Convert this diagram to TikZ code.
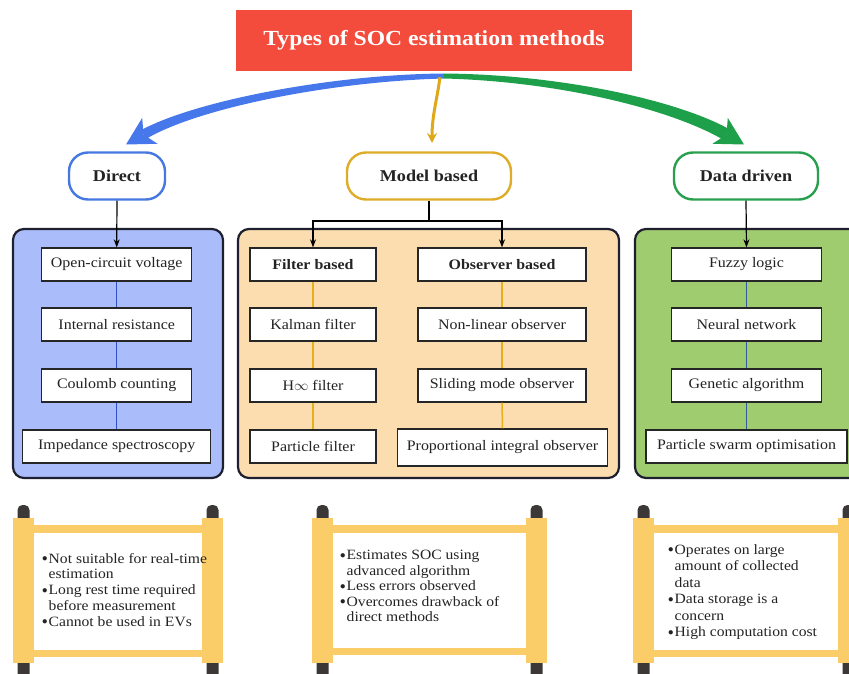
\documentclass[tikz,border=0pt]{standalone}
\usepackage{fontspec}
\setmainfont[FakeStretch=1.1]{Liberation Serif}
\usetikzlibrary{arrows.meta,calc}
\definecolor{titlered}{RGB}{243,75,60}
\definecolor{arrblue}{RGB}{70,120,235}
\definecolor{arrgreen}{RGB}{30,160,75}
\definecolor{arrgold}{RGB}{222,168,25}
\definecolor{pillblue}{RGB}{70,120,225}
\definecolor{pillgold}{RGB}{222,172,40}
\definecolor{pillgreen}{RGB}{40,160,80}
\definecolor{panelblue}{RGB}{170,189,250}
\definecolor{panelorange}{RGB}{252,221,176}
\definecolor{panelgreen}{RGB}{160,204,112}
\definecolor{panelborder}{RGB}{30,32,48}
\definecolor{textgray}{RGB}{35,35,35}
\definecolor{linkblue}{RGB}{50,80,200}
\definecolor{linkgold}{RGB}{228,176,30}
\definecolor{linknavy}{RGB}{50,90,150}
\definecolor{scrollyellow}{RGB}{250,205,105}
\definecolor{capdark}{RGB}{60,56,56}
\newcommand{\bul}{\makebox[6.5pt][l]{\raisebox{1.5pt}{\fontsize{11}{11}\selectfont$\bullet$}}}
\newcommand{\ind}{\hspace*{6.5pt}}
\newcommand{\drawscroll}[4]{%
  \fill[capdark,rounded corners=5pt] (#1+4.5,505) rectangle (#1+16.5,526);
  \fill[capdark,rounded corners=5pt] (#2+4.5,655) rectangle (#2+16.5,690);
  \fill[capdark,rounded corners=5pt] (#2+4.5,505) rectangle (#2+16.5,526);
  \fill[capdark,rounded corners=5pt] (#1+4.5,655) rectangle (#1+16.5,690);
  \fill[scrollyellow] (#1+20,#3) rectangle (#2,#3+8);
  \fill[scrollyellow] (#1+20,#4) rectangle (#2,#4+7);
  \fill[scrollyellow] (#1,518) rectangle (#1+21,663);
  \fill[scrollyellow] (#2,518) rectangle (#2+21,663);
}
\begin{document}
\begin{tikzpicture}[x=1pt,y=-1pt,
  titlebox/.style={fill=titlered, minimum width=396pt, minimum height=61pt, inner sep=0pt,
     text=white, font=\fontsize{21.5}{24}\selectfont\bfseries},
  pill/.style={draw, fill=white, line width=2.4pt, rounded corners=19pt, minimum height=47pt,
     inner sep=0pt, text=textgray, font=\fontsize{16.5}{20}\selectfont\bfseries},
  panel/.style={draw=panelborder, line width=2.2pt, rounded corners=11pt},
  box/.style={draw=black!85, fill=white, line width=1.3pt, minimum height=33pt, inner sep=0pt,
     text=textgray, font=\fontsize{14.5}{17}\selectfont},
  bbox/.style={box, font=\fontsize{14.5}{17}\selectfont\bfseries},
  link/.style={line width=1.5pt},
  harrow/.style={line width=1.2pt, -{Stealth[length=8pt,width=6pt]}},
  note/.style={anchor=north west, align=left, inner sep=0pt, text=textgray}
]
\useasboundingbox (0,0) rectangle (849,674);

% title
\node[titlebox] (title) at (434,40.5) {Types of SOC estimation methods};

% big arrows (tapered shapes)
\fill[arrblue] (444,73.5) .. controls (330,74.5) and (193.9,101.3) .. (141,130.2)
   -- (146,139) .. controls (197.3,108.3) and (330,81.5) .. (444,78.5) -- cycle;
\fill[arrblue] (142.2,117.9) -- (126,144.5) -- (157.5,143.8) -- (143.5,134.6) -- cycle;
\fill[arrgreen] (444,73.5) .. controls (560,74.5) and (676.9,100) .. (729.5,129.3)
   -- (723.5,139.9) .. controls (671.9,109.6) and (560,81.5) .. (444,78.5) -- cycle;
\fill[arrgreen] (727.8,117.9) -- (744,144.5) -- (712.5,143.8) -- (726.5,134.6) -- cycle;
\coordinate (goldstart) at ($(title.south)+(6,6)$);
\coordinate (goldend) at (432,143);
\draw[arrgold, line width=3pt, -{Stealth[length=10pt,width=10pt]}]
   (goldstart) .. controls (437,100) and (432,115) .. (goldend);

% pills
\node[pill, draw=pillblue, minimum width=96pt] (direct) at (117,176) {Direct};
\node[pill, draw=pillgold, minimum width=164pt] (model) at (429,176) {Model based};
\node[pill, draw=pillgreen, minimum width=144pt] (data) at (746,176) {Data driven};

% panels
\path[panel, fill=panelblue] (13,229) rectangle (223,478);
\path[panel, fill=panelorange] (238,229) rectangle (619,478);
\path[panel, fill=panelgreen] (635,229) rectangle (880,478);

% direct column
\node[box, minimum width=150pt] (ocv) at (116.7,264.5) {Open-circuit voltage};
\node[box, minimum width=150pt] (ir) at (116.7,324.5) {Internal resistance};
\node[box, minimum width=150pt] (cc) at (116.7,385.5) {Coulomb counting};
\node[box, minimum width=188pt] (is) at (116.7,446.5) {Impedance spectroscopy};
\draw[link, linkblue] (ocv.south) -- (ir.north);
\draw[link, linkblue] (ir.south) -- (cc.north);
\draw[link, linkblue] (cc.south) -- (is.north);

% model based: filter column
\node[bbox, minimum width=126pt] (fb) at (313,264.5) {Filter based};
\node[box, minimum width=126pt] (kf) at (313,324.5) {Kalman filter};
\node[box, minimum width=126pt] (hf) at (313,385.5) {H$\infty$ filter};
\node[box, minimum width=126pt] (pf) at (313,446.5) {Particle filter};
\draw[link, linkgold] (fb.south) -- (kf.north);
\draw[link, linkgold] (kf.south) -- (hf.north);
\draw[link, linkgold] (hf.south) -- (pf.north);

% model based: observer column
\node[bbox, minimum width=168pt] (ob) at (502,264.5) {Observer based};
\node[box, minimum width=168pt] (nl) at (502,324.5) {Non-linear observer};
\node[box, minimum width=168pt] (sm) at (502,385.5) {Sliding mode observer};
\node[box, minimum width=210pt, minimum height=37pt] (pi) at (502.5,447.5) {Proportional integral observer};
\draw[link, linkgold] (ob.south) -- (nl.north);
\draw[link, linkgold] (nl.south) -- (sm.north);
\draw[link, linkgold] (sm.south) -- (pi.north);

% data driven column
\node[box, minimum width=150pt] (fl) at (746.5,264.5) {Fuzzy logic};
\node[box, minimum width=150pt] (nn) at (746.5,324.5) {Neural network};
\node[box, minimum width=150pt] (ga) at (746.5,385.5) {Genetic algorithm};
\node[box, minimum width=201pt] (pso) at (746.5,446.5) {Particle swarm optimisation};
\draw[link, linknavy] (fl.south) -- (nn.north);
\draw[link, linknavy] (nn.south) -- (ga.north);
\draw[link, linknavy] (ga.south) -- (pso.north);

% black connectors
\draw[harrow] (direct.south) -- (ocv.north);
\draw[harrow] (data.south) -- (fl.north);
\coordinate (split) at (429,221);
\draw[line width=1.2pt] (model.south) -- (split);
\draw[harrow] (split) -| (fb.north);
\draw[harrow] (split) -| (ob.north);

% scrolls
\drawscroll{13}{202}{525}{650}
\drawscroll{312}{526}{525}{648}
\drawscroll{633}{838}{525}{650}

\node[note, font=\fontsize{14.2}{15.7}\selectfont] (n1) at (42,553) {%
\bul Not suitable for real-time\\
\ind estimation\\
\bul Long rest time required\\
\ind before measurement\\
\bul Cannot be used in EVs};
\node[note, font=\fontsize{14.2}{15.5}\selectfont] (n2) at (340,550) {%
\bul Estimates SOC using\\
\ind advanced algorithm\\
\bul Less errors observed\\
\bul Overcomes drawback of\\
\ind direct methods};
\node[note, font=\fontsize{14.2}{16.5}\selectfont] (n3) at (668,544) {%
\bul Operates on large\\
\ind amount of collected\\
\ind data\\
\bul Data storage is a\\
\ind concern\\
\bul High computation cost};
\end{tikzpicture}
\end{document}
